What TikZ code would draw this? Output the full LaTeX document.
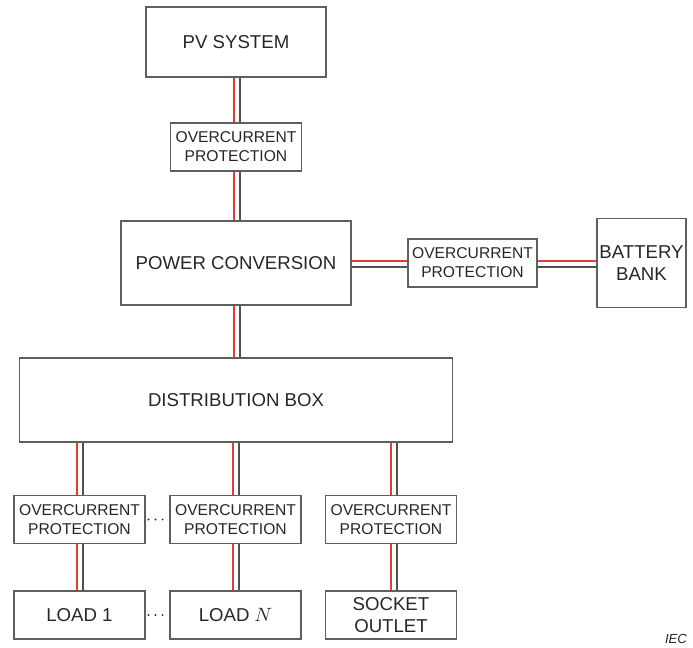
\documentclass[tikz,border=0pt]{standalone}
\usepackage{fontspec}
\setmainfont{Liberation Sans}
\usepackage{xcolor}
\usetikzlibrary{calc}

\definecolor{wirered}{RGB}{230,60,50}
\definecolor{wiregray}{RGB}{80,80,80}
\definecolor{edgegray}{RGB}{95,95,95}

\begin{document}
\begin{tikzpicture}[x=0.02cm, y=-0.02cm,
  blockbox/.style={draw=edgegray, line width=0.6pt, align=center, inner sep=0pt, text=black!85, font=\fontsize{10.6}{12.8}\selectfont},
  protbox/.style={blockbox, minimum width=2.62cm, minimum height=0.96cm, font=\fontsize{8.9}{10.9}\selectfont},
  loadbox/.style={blockbox, minimum width=2.62cm, minimum height=0.96cm},
  redwire/.style={draw=wirered, line width=0.75pt},
  graywire/.style={draw=wiregray, line width=0.75pt},
  dotline/.style={draw=black!80, line width=1.2pt, line cap=round, dash pattern=on 0pt off 4pt},
]
\useasboundingbox (0,0) rectangle (693,648);

% main chain
\node[blockbox, minimum width=3.6cm, minimum height=1.4cm] (pv) at (236,42) {PV SYSTEM};
\node[protbox] (pA) at (236,147) {OVERCURRENT\\PROTECTION};
\node[blockbox, minimum width=4.6cm, minimum height=1.68cm] (pc) at (236,263) {POWER CONVERSION};
\node[protbox, minimum width=2.58cm] (pR) at (472.5,263) {OVERCURRENT\\PROTECTION};
\node[blockbox, minimum width=1.78cm, minimum height=1.78cm] (bat) at (641.5,263) {BATTERY\\BANK};
\node[blockbox, minimum width=8.68cm, minimum height=1.68cm] (db) at (236,400) {DISTRIBUTION BOX};

% branches
\node[protbox] (p1) at (79.5,519.5) {OVERCURRENT\\PROTECTION};
\node[protbox] (p2) at (235.5,519.5) {OVERCURRENT\\PROTECTION};
\node[protbox] (p3) at (391,519.5) {OVERCURRENT\\PROTECTION};
\node[loadbox] (l1) at (79.5,615) {LOAD 1};
\node[loadbox] (l2) at (235.5,615) {LOAD $N$};
\node[loadbox] (l3) at (391,615) {SOCKET\\OUTLET};

% red / gray pairs, vertical (offsets in cm)
\foreach \a/\b/\r/\k in {pv/pA/-0.04/0.08, pA/pc/-0.04/0.08, pc/db/-0.04/0.08,
                         p1/l1/-0.05/0.07, p2/l2/-0.05/0.07, p3/l3/0/0.12} {
  \draw[redwire] ([xshift=\r cm]\a.south) -- ([xshift=\r cm]\b.north);
  \draw[graywire] ([xshift=\k cm]\a.south) -- ([xshift=\k cm]\b.north);
}
\foreach \c/\r/\k in {p1/-0.05/0.07, p2/-0.05/0.07, p3/0/0.12} {
  \draw[redwire] ([xshift=\r cm]\c.north |- db.south) -- ([xshift=\r cm]\c.north);
  \draw[graywire] ([xshift=\k cm]\c.north |- db.south) -- ([xshift=\k cm]\c.north);
}

% horizontal to battery
\foreach \a/\b in {pc/pR, pR/bat} {
  \draw[redwire] ([yshift=0.04cm]\a.east) -- ([yshift=0.04cm]\b.west);
  \draw[graywire] ([yshift=-0.08cm]\a.east) -- ([yshift=-0.08cm]\b.west);
}

% dots between 1 and N
\draw[dotline] ([xshift=0.06cm]p1.east) -- (p2.west);
\draw[dotline] ([xshift=0.06cm]l1.east) -- (l2.west);

\node[font=\fontsize{7.5}{9}\selectfont\itshape, text=black!85] (iec) at (676,639) {IEC};

\end{tikzpicture}
\end{document}
